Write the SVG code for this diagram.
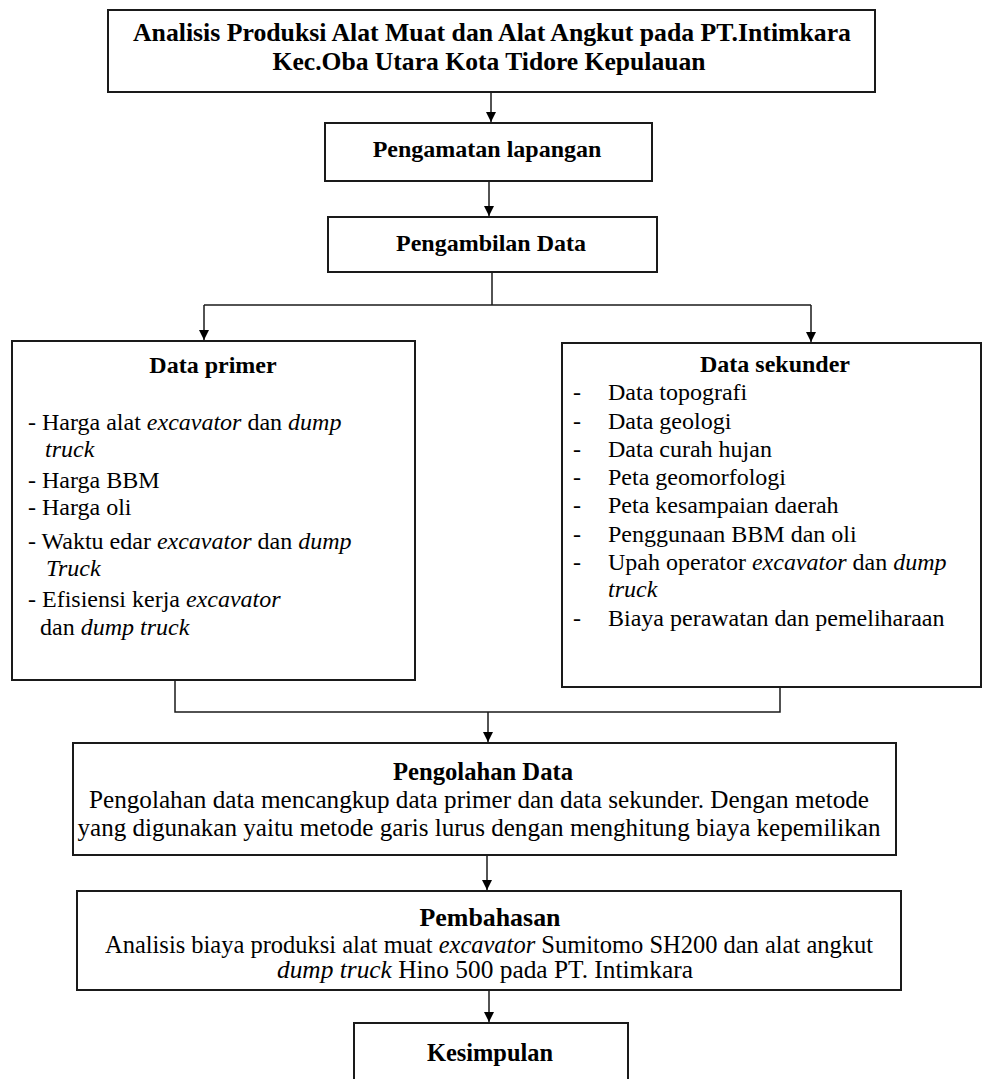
<svg xmlns="http://www.w3.org/2000/svg" width="983" height="1079" viewBox="0 0 983 1079">
<style>
.box{fill:#fff;stroke:#1a1a1a;stroke-width:2}
.t{font-family:"Liberation Serif","Times New Roman",serif;font-size:24px;fill:#000}
.big{font-size:25px}
.b{font-weight:bold}
.c{text-anchor:middle}
.i{font-style:italic}
.ln{fill:none;stroke:#1a1a1a;stroke-width:1.5}
</style>
<defs>
<marker id="ah" viewBox="0 0 10 10" refX="10" refY="5" markerWidth="10" markerHeight="10" markerUnits="userSpaceOnUse" orient="auto">
<path d="M0,0 L10,5 L0,10 Z" fill="#000"/>
</marker>
</defs>
<rect width="983" height="1079" fill="#fff"/>

<g id="connectors">
<line class="ln" x1="491" y1="92" x2="491" y2="122" marker-end="url(#ah)"/>
<line class="ln" x1="489" y1="181" x2="489" y2="216" marker-end="url(#ah)"/>
<polyline class="ln" points="492,272 492,305"/>
<polyline class="ln" points="204,305 811,305"/>
<line class="ln" x1="204" y1="305" x2="204" y2="340" marker-end="url(#ah)"/>
<line class="ln" x1="811" y1="305" x2="811" y2="342" marker-end="url(#ah)"/>
<polyline class="ln" points="175,680 175,712 780,712 780,687"/>
<line class="ln" x1="488" y1="712" x2="488" y2="742" marker-end="url(#ah)"/>
<line class="ln" x1="487" y1="855" x2="487" y2="890" marker-end="url(#ah)"/>
<line class="ln" x1="489" y1="990" x2="489" y2="1022" marker-end="url(#ah)"/>
</g>

<g id="judul">
<rect class="box" x="108" y="10" width="767" height="82"/>
<text class="t big b c" x="492" y="41" textLength="718" lengthAdjust="spacingAndGlyphs">Analisis Produksi Alat Muat dan Alat Angkut pada PT.Intimkara</text>
<text class="t big b c" x="489" y="70" textLength="433" lengthAdjust="spacingAndGlyphs">Kec.Oba Utara Kota Tidore Kepulauan</text>
</g>

<g id="pengamatan">
<rect class="box" x="325" y="123" width="327" height="58"/>
<text class="t b c" x="487" y="157">Pengamatan lapangan</text>
</g>

<g id="pengambilan">
<rect class="box" x="328" y="217" width="329" height="55"/>
<text class="t b c" x="491" y="251">Pengambilan Data</text>
</g>

<g id="data-primer">
<rect class="box" x="12" y="341" width="403" height="339"/>
<text class="t b c" x="213" y="373">Data primer</text>
<text class="t" x="28" y="430">- Harga alat <tspan class="i">excavator</tspan> dan <tspan class="i">dump</tspan></text>
<text class="t i" x="45" y="457">truck</text>
<text class="t" x="28" y="488">- Harga BBM</text>
<text class="t" x="28" y="515">- Harga oli</text>
<text class="t" x="28" y="549">- Waktu edar <tspan class="i">excavator</tspan> dan <tspan class="i">dump</tspan></text>
<text class="t i" x="46" y="576">Truck</text>
<text class="t" x="28" y="607">- Efisiensi kerja <tspan class="i">excavator</tspan></text>
<text class="t" x="40" y="635">dan <tspan class="i">dump truck</tspan></text>
</g>

<g id="data-sekunder">
<rect class="box" x="562" y="343" width="419" height="344"/>
<text class="t b c" x="775" y="372">Data sekunder</text>
<text class="t" x="573" y="400">-</text><text class="t" x="608" y="400">Data topografi</text>
<text class="t" x="573" y="429">-</text><text class="t" x="608" y="429">Data geologi</text>
<text class="t" x="573" y="457">-</text><text class="t" x="608" y="457">Data curah hujan</text>
<text class="t" x="573" y="485">-</text><text class="t" x="608" y="485">Peta geomorfologi</text>
<text class="t" x="573" y="513">-</text><text class="t" x="608" y="513">Peta kesampaian daerah</text>
<text class="t" x="573" y="542">-</text><text class="t" x="608" y="542">Penggunaan BBM dan oli</text>
<text class="t" x="573" y="570">-</text><text class="t" x="608" y="570">Upah operator <tspan class="i">excavator</tspan> dan <tspan class="i">dump</tspan></text>
<text class="t i" x="608" y="597">truck</text>
<text class="t" x="573" y="626">-</text><text class="t" x="608" y="626">Biaya perawatan dan pemeliharaan</text>
</g>

<g id="pengolahan">
<rect class="box" x="73" y="743" width="823" height="112"/>
<text class="t big b c" x="483" y="780" textLength="180" lengthAdjust="spacingAndGlyphs">Pengolahan Data</text>
<text class="t big c" x="479" y="808" textLength="780" lengthAdjust="spacingAndGlyphs">Pengolahan data mencangkup data primer dan data sekunder. Dengan metode</text>
<text class="t big c" x="479" y="836" textLength="803" lengthAdjust="spacingAndGlyphs">yang digunakan yaitu metode garis lurus dengan menghitung biaya kepemilikan</text>
</g>

<g id="pembahasan">
<rect class="box" x="77" y="891" width="824" height="99"/>
<text class="t big b c" x="490" y="926" textLength="141" lengthAdjust="spacingAndGlyphs">Pembahasan</text>
<text class="t big c" x="489" y="953" textLength="768" lengthAdjust="spacingAndGlyphs">Analisis biaya produksi alat muat <tspan class="i">excavator</tspan> Sumitomo SH200 dan alat angkut</text>
<text class="t big c" x="485" y="978" textLength="416" lengthAdjust="spacingAndGlyphs"><tspan class="i">dump truck</tspan> Hino 500 pada PT. Intimkara</text>
</g>

<g id="kesimpulan">
<rect class="box" x="354" y="1023" width="274" height="70"/>
<text class="t big b c" x="490" y="1061" textLength="126" lengthAdjust="spacingAndGlyphs">Kesimpulan</text>
</g>
</svg>
